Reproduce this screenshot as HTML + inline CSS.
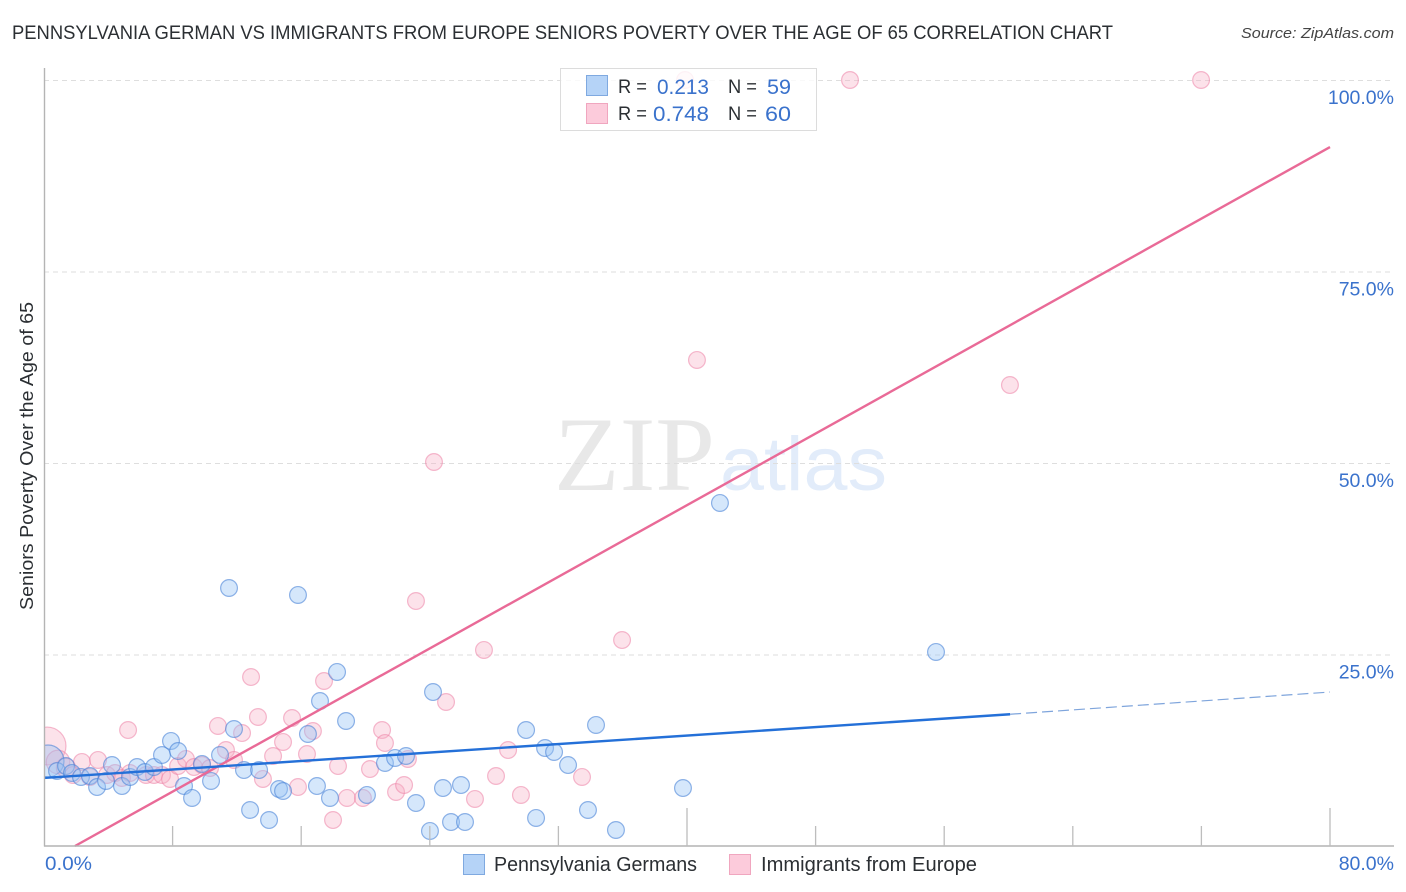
<!DOCTYPE html>
<html lang="en">
<head>
<meta charset="utf-8">
<title>Pennsylvania German vs Immigrants from Europe Seniors Poverty Correlation Chart</title>
<style>
html,body{margin:0;padding:0;background:#fff;width:1406px;height:892px;overflow:hidden}
svg{display:block}
text{font-family:"Liberation Sans",sans-serif}
</style>
</head>
<body>
<svg id="chart" xmlns="http://www.w3.org/2000/svg" width="1406" height="892" viewBox="0 0 1406 892">
  <rect x="0" y="0" width="1406" height="892" fill="#fff"/>
  <text x="12" y="39" font-size="19" fill="#2b2f33" textLength="1101" lengthAdjust="spacingAndGlyphs">PENNSYLVANIA GERMAN VS IMMIGRANTS FROM EUROPE SENIORS POVERTY OVER THE AGE OF 65 CORRELATION CHART</text>
  <text x="1241" y="38" font-size="15" font-style="italic" fill="#444" textLength="153" lengthAdjust="spacingAndGlyphs">Source: ZipAtlas.com</text>
  <text transform="translate(33,610) rotate(-90)" font-size="18.5" fill="#2b2f33" textLength="308" lengthAdjust="spacingAndGlyphs">Seniors Poverty Over the Age of 65</text>
  <g>
    <text x="554" y="490" font-size="106" fill="#e8e8e8" style="font-family:'Liberation Serif',serif" textLength="161" lengthAdjust="spacingAndGlyphs">ZIP</text>
    <text x="720" y="490" font-size="76" fill="#e2ecfa" textLength="167" lengthAdjust="spacingAndGlyphs">atlas</text>
  </g>
  <g id="grid"></g>
  <g id="pts"></g>
  <g id="lines"></g>
  <rect x="0" y="700" width="44" height="120" fill="#fff"/>
  <g id="axes"></g>
  <g id="labels"></g>
  <g>
    <rect x="560.5" y="68.5" width="256" height="62" fill="#fff" fill-opacity="0.82" stroke="#dcdcdc"/>
    <rect x="586.5" y="75.5" width="21" height="20" fill="#b5d3f7" stroke="#7fa9e0"/>
    <rect x="586.5" y="103.5" width="21" height="20" fill="#fccbdb" stroke="#f0a6bf"/>
    <text x="618" y="93" font-size="19" fill="#2b2f33" textLength="29" lengthAdjust="spacingAndGlyphs">R =</text>
    <text x="657" y="94" font-size="21.5" fill="#3a72cc" textLength="52" lengthAdjust="spacingAndGlyphs">0.213</text>
    <text x="728" y="93" font-size="19" fill="#2b2f33" textLength="29" lengthAdjust="spacingAndGlyphs">N =</text>
    <text x="767" y="94" font-size="21.5" fill="#3a72cc" textLength="24" lengthAdjust="spacingAndGlyphs">59</text>
    <text x="618" y="120" font-size="19" fill="#2b2f33" textLength="29" lengthAdjust="spacingAndGlyphs">R =</text>
    <text x="653" y="121" font-size="21.5" fill="#3a72cc" textLength="56" lengthAdjust="spacingAndGlyphs">0.748</text>
    <text x="728" y="120" font-size="19" fill="#2b2f33" textLength="29" lengthAdjust="spacingAndGlyphs">N =</text>
    <text x="765" y="121" font-size="21.5" fill="#3a72cc" textLength="26" lengthAdjust="spacingAndGlyphs">60</text>
  </g>
  <g>
    <rect x="463.5" y="854.5" width="21" height="20" fill="#b5d3f7" stroke="#7fa9e0"/>
    <text x="494" y="871" font-size="20" fill="#2b2f33" textLength="203" lengthAdjust="spacingAndGlyphs">Pennsylvania Germans</text>
    <rect x="729.5" y="854.5" width="21" height="20" fill="#fccbdb" stroke="#f0a6bf"/>
    <text x="761" y="871" font-size="20" fill="#2b2f33" textLength="216" lengthAdjust="spacingAndGlyphs">Immigrants from Europe</text>
  </g>
</svg>
<script>
// Data: percentages
const xTickValues = [0, 8, 16, 24, 32, 40, 48, 56, 64, 72, 80];
const xMajorTicks = [0, 40, 80];
const yGridValues = [25, 50, 75, 100];
const yTickLabels = ["25.0%", "50.0%", "75.0%", "100.0%"];
const xEdgeLabels = ["0.0%", "80.0%"];

const blueX = [0.25,0.81,1.37,1.74,2.30,2.86,3.30,3.86,4.23,4.85,5.35,5.79,6.28,6.84,7.34,7.90,8.34,8.71,9.21,9.83,10.39,10.95,11.51,11.82,12.44,12.82,13.38,14.00,14.62,14.87,15.80,16.42,16.98,17.17,17.79,18.23,18.79,20.09,21.21,21.84,22.52,23.14,24.01,24.20,24.82,25.32,25.94,26.19,29.99,30.61,31.17,31.73,32.60,33.84,34.34,35.58,39.75,42.05,55.49];
const blueY = [11.10,9.79,10.44,9.53,9.01,9.14,7.70,8.49,10.57,7.83,9.01,10.31,9.66,10.31,11.88,13.71,12.40,7.83,6.27,10.71,8.49,11.88,33.68,15.27,9.92,4.70,9.92,3.39,7.44,7.18,32.77,14.62,7.83,18.93,6.27,22.72,16.32,6.66,10.84,11.49,11.75,5.61,1.96,20.10,7.57,3.13,7.96,3.13,15.14,3.66,12.79,12.27,10.57,4.70,15.80,2.09,7.57,44.78,25.33];
const pinkX = [0.19,0.87,1.37,1.80,2.36,2.86,3.36,3.92,4.42,5.23,4.85,5.35,6.35,6.84,7.34,7.84,8.34,8.83,9.33,9.83,10.33,10.82,11.32,11.82,12.32,12.88,13.31,13.62,14.25,14.87,15.43,15.80,16.36,16.73,17.42,17.98,18.29,18.85,19.84,20.28,21.03,21.21,21.90,22.40,22.64,23.14,24.26,25.01,26.81,27.37,28.12,28.87,29.67,33.47,35.96,40.62,39.88,50.14,60.09,71.98];
const pinkY = [13.06,10.97,10.18,9.27,10.97,9.01,11.23,9.27,9.53,15.14,8.88,9.53,9.27,9.27,9.27,8.75,10.44,11.36,10.31,10.57,10.18,15.67,12.53,11.23,14.75,22.06,16.84,8.75,11.75,13.58,16.71,7.70,12.01,15.01,21.54,3.39,10.44,6.27,6.27,10.05,15.14,13.45,7.05,7.96,11.36,31.98,50.13,18.80,6.14,25.59,9.14,12.53,6.66,9.01,26.89,63.45,100,100,60.18,100];
// Relative bubble weight by index (1 for all others)
const blueWeights = {0: 1.9};
const pinkWeights = {0: 2.25, 1: 1.4, 2: 1.15};

// Trend lines: [x, y] percent endpoints
const blueSolidX = [0, 60.1];
const blueSolidY = [8.88, 17.2];
const blueDashX = [60.1, 80];
const blueDashY = [17.2, 20.1];
const pinkLineX = [1.93, 80];
const pinkLineY = [0, 91.25];

const NS = "http://www.w3.org/2000/svg";
const xScale = v => 44 + v * 16.075;
const yScale = v => 846 - v * 7.66;
const BASE_R = 8.4;

function make(tag, attrs, parent) {
  const el = document.createElementNS(NS, tag);
  for (const k in attrs) el.setAttribute(k, attrs[k]);
  parent.appendChild(el);
  return el;
}

const grid = document.getElementById("grid");
const axes = document.getElementById("axes");
const pts = document.getElementById("pts");
const lines = document.getElementById("lines");
const labels = document.getElementById("labels");

yGridValues.forEach(v => {
  const g = make("line", {x1: 44, x2: 1394, y1: yScale(v) + 0.5, y2: yScale(v) + 0.5, stroke: "#dedede", "stroke-width": 1, "stroke-dasharray": "5 4"}, grid);
  
  
});

const yAxis = make("line", {x1: 44.5, x2: 44.5, y1: 68, y2: 846.5, stroke: "#b4b4b4", "stroke-width": 1.4}, axes);


const xAxis = make("line", {x1: 44, x2: 1394, y1: 846, y2: 846, stroke: "#b4b4b4", "stroke-width": 1.4}, axes);



xTickValues.slice(1).forEach(v => {
  const top = xMajorTicks.includes(v) ? 808 : 826;
  const t = make("line", {x1: xScale(v), x2: xScale(v), y1: top, y2: 846, stroke: "#bdbdbd", "stroke-width": 1.3}, axes);
  
  
});

function drawPoints(xs, ys, weights, fill, stroke, name) {
  xs.forEach((x, i) => {
    const c = make("circle", {cx: xScale(x), cy: yScale(ys[i]), r: BASE_R * (weights[i] || 1), fill: fill, stroke: stroke, "stroke-width": 1.2}, pts);
    
    
  });
}
drawPoints(pinkX, pinkY, pinkWeights, "rgba(248,175,198,0.36)", "rgba(236,130,165,0.55)", "immigrants-point");
drawPoints(blueX, blueY, blueWeights, "rgba(150,195,245,0.4)", "rgba(72,130,215,0.6)", "pennsylvania-point");

const pinkLine = make("line", {x1: xScale(pinkLineX[0]), y1: yScale(pinkLineY[0]), x2: xScale(pinkLineX[1]), y2: yScale(pinkLineY[1]), stroke: "#e96a97", "stroke-width": 2.4}, lines);


const blueLine = make("line", {x1: xScale(blueSolidX[0]), y1: yScale(blueSolidY[0]), x2: xScale(blueSolidX[1]), y2: yScale(blueSolidY[1]), stroke: "#2470d8", "stroke-width": 2.4}, lines);


const blueDash = make("line", {x1: xScale(blueDashX[0]), y1: yScale(blueDashY[0]), x2: xScale(blueDashX[1]), y2: yScale(blueDashY[1]), stroke: "#7fa5dc", "stroke-width": 1.2, "stroke-dasharray": "11 5"}, lines);



yTickLabels.forEach((s, i) => {
  const t = make("text", {x: 1394, y: yScale(yGridValues[i]) + 24, "text-anchor": "end", "font-size": 19.5, fill: "#3a72cc"}, labels);
  
  
  t.textContent = s;
});
const xLabelLeft = make("text", {x: xScale(xTickValues[0]) + 1, y: 870, "font-size": 19.5, fill: "#3a72cc", textLength: 47, lengthAdjust: "spacingAndGlyphs"}, labels);


xLabelLeft.textContent = xEdgeLabels[0];
const xLabelRight = make("text", {x: 1394, y: 870, "text-anchor": "end", "font-size": 19.5, fill: "#3a72cc"}, labels);


xLabelRight.textContent = xEdgeLabels[1];
</script>
</body>
</html>
